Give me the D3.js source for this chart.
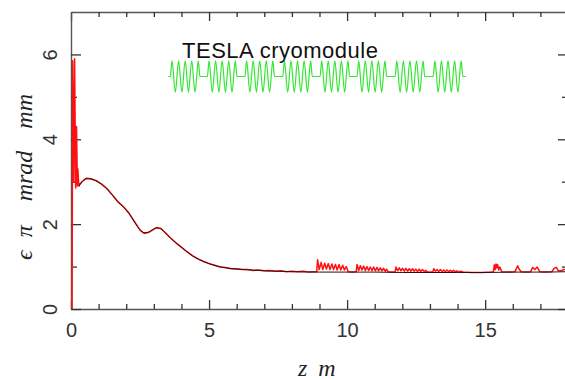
<!DOCTYPE html>
<html><head><meta charset="utf-8">
<script src="https://cdn.jsdelivr.net/npm/d3@7"></script>
<style>body{margin:0;background:#fff}svg{display:block}</style>
</head><body>
<svg id="chart" width="565" height="380"></svg>
<script>
// ---- data ----
const xMajorTicks = [0, 5, 10, 15];
const xMinorTicks = [1, 2, 3, 4, 6, 7, 8, 9, 11, 12, 13, 14, 16, 17];
const yMajorTicks = [0, 2, 4, 6];
const yMinorTicks = [1, 3, 5];
const xTitle = ["z", "m"];
const yTitle = ["ϵ", "π", "mrad", "mm"];
const moduleLabel = "TESLA cryomodule";

// smooth (black) emittance curve
const smoothZ = [0.28,0.4,0.55,0.7,0.9,1.1,1.3,1.5,1.7,1.9,2.1,2.3,2.5,2.65,2.8,2.95,3.1,3.25,3.4,3.6,3.8,4.0,4.2,4.4,4.6,4.8,5.0,5.3,5.6,6.0,6.5,7,7.5,8,9,10,11,12,13,14,15,16,17,18];
const smoothEps = [2.88,3.0,3.07,3.07,3.02,2.94,2.83,2.68,2.52,2.4,2.25,2.05,1.87,1.8,1.81,1.87,1.91,1.89,1.8,1.67,1.56,1.45,1.35,1.25,1.18,1.12,1.07,1.01,0.97,0.94,0.92,0.9,0.89,0.88,0.87,0.87,0.87,0.86,0.86,0.86,0.86,0.87,0.87,0.88];

// tracked (red) emittance curve [z, eps]
const trackedCurve = [
[0.04,0],[0.06,5.85],[0.1,3.0],[0.13,5.9],[0.17,2.85],[0.2,4.3],[0.23,2.9],[0.25,3.3],[0.28,2.92],
[0.4,3.0],[0.55,3.08],[0.7,3.07],[0.9,3.03],[1.1,2.95],[1.3,2.84],[1.5,2.69],[1.7,2.53],[1.9,2.41],[2.1,2.26],[2.3,2.06],[2.5,1.86],[2.65,1.78],[2.8,1.8],[2.95,1.86],[3.1,1.92],[3.25,1.9],[3.4,1.81],[3.6,1.68],[3.8,1.56],[4.0,1.46],[4.2,1.35],[4.4,1.26],[4.6,1.18],[4.8,1.12],[5.0,1.07],[5.2,1.03],[5.4,0.99],[5.6,0.98],[5.8,0.95],[6.0,0.95],[6.2,0.93],[6.4,0.93],[6.6,0.91],[6.8,0.92],[7.0,0.9],[7.2,0.91],[7.4,0.89],[7.6,0.9],[7.8,0.88],[8.0,0.89],[8.2,0.88],[8.4,0.89],[8.6,0.87],[8.8,0.88],
[8.9,0.88],[8.93,1.16],[8.99,0.93],[9.06,1.1],[9.12,0.93],[9.19,1.08],[9.25,0.94],[9.32,1.07],[9.38,0.93],[9.45,1.06],[9.51,0.93],[9.58,1.05],[9.64,0.92],[9.71,1.05],[9.77,0.92],[9.84,1.03],[9.9,0.92],[9.97,1.0],[10.04,0.88],
[10.18,0.87],
[10.33,0.88],[10.36,1.05],[10.42,0.91],[10.48,1.02],[10.54,0.92],[10.6,1.01],[10.66,0.91],[10.72,1.0],[10.78,0.91],[10.84,0.99],[10.9,0.9],[10.96,0.99],[11.02,0.9],[11.08,0.98],[11.14,0.9],[11.2,0.97],[11.26,0.9],[11.32,0.96],[11.38,0.89],[11.43,0.94],[11.48,0.88],
[11.6,0.87],
[11.74,0.88],[11.77,0.99],[11.83,0.9],[11.89,0.97],[11.95,0.9],[12.01,0.96],[12.07,0.89],[12.13,0.96],[12.19,0.89],[12.25,0.95],[12.31,0.89],[12.37,0.95],[12.43,0.89],[12.49,0.94],[12.55,0.88],[12.61,0.94],[12.67,0.88],[12.73,0.93],[12.8,0.88],[12.85,0.91],[12.9,0.87],
[13.1,0.87],[13.14,0.95],[13.2,0.89],[13.26,0.93],[13.32,0.88],[13.38,0.93],[13.44,0.88],[13.5,0.92],[13.56,0.88],[13.62,0.92],[13.68,0.88],[13.74,0.91],[13.8,0.88],[13.86,0.91],[13.92,0.87],[13.98,0.9],[14.04,0.87],[14.1,0.89],[14.2,0.87],
[14.5,0.86],[14.9,0.86],[15.2,0.87],
[15.3,0.88],[15.33,1.04],[15.36,0.93],[15.39,1.06],[15.42,0.97],[15.45,1.05],[15.49,0.92],[15.53,0.99],[15.6,0.88],
[15.9,0.87],
[16.08,0.88],[16.15,0.98],[16.18,1.02],[16.22,0.95],[16.3,0.88],
[16.5,0.87],
[16.65,0.88],[16.72,0.98],[16.8,0.93],[16.88,0.99],[16.98,0.88],
[17.2,0.87],
[17.42,0.88],[17.5,0.96],[17.58,0.98],[17.65,0.9],[17.75,0.9],[17.85,0.93],[18,0.94]
];

// cryomodule schematic (green)
const moduleStartZ = 3.52, moduleEndZ = 14.3;
const cavityStartZ = [3.6, 4.94, 6.3, 7.67, 9.02, 10.36, 11.74, 13.12];
const cavityLengthZ = 1.07;
const cellFieldSign = [1, -1, 1, -1, 1, -1, 1, -1, 1];
const fieldBaseline = 5.48, fieldAmplitude = 0.37;

// ---- chart ----
const svg = d3.select("#chart");
const x = d3.scaleLinear().domain([0, 18]).range([71, 568]);
const y = d3.scaleLinear().domain([0, 7]).range([309, 12]);
const axisColor = "#555";
const tickFont = "'Liberation Sans', Arial, sans-serif";
const italicFont = "'Liberation Serif', 'Times New Roman', serif";

function styleAxis(g) {
  g.select(".domain").attr("stroke", axisColor).attr("stroke-width", 1.4);
  g.selectAll(".tick line").attr("stroke", "#333").attr("stroke-width", 1.3);
}

const gB = svg.append("g").attr("transform", `translate(0,${y(0)})`);
gB.call(d3.axisBottom(x).tickValues(xMajorTicks).tickSizeInner(-9).tickSizeOuter(0).tickPadding(14).tickFormat(d3.format("d")));
gB.append("g").call(d3.axisBottom(x).tickValues(xMinorTicks).tickSize(-5).tickFormat("")).select(".domain").remove();
styleAxis(gB);
gB.selectAll(".tick text").attr("font-family", tickFont).attr("font-size", 20).attr("fill", "#333");

const gT = svg.append("g").attr("transform", `translate(0,${y(7)})`);
gT.call(d3.axisTop(x).tickValues(xMajorTicks).tickSizeInner(-9).tickSizeOuter(0).tickFormat(""));
gT.append("g").call(d3.axisTop(x).tickValues(xMinorTicks).tickSize(-5).tickFormat("")).select(".domain").remove();
styleAxis(gT);

const gL = svg.append("g").attr("transform", `translate(${x(0)},0)`);
gL.call(d3.axisLeft(y).tickValues(yMajorTicks).tickSizeInner(-10).tickSizeOuter(0).tickFormat(d3.format("d")));
gL.append("g").call(d3.axisLeft(y).tickValues(yMinorTicks).tickSize(-6).tickFormat("")).select(".domain").remove();
styleAxis(gL);
gL.selectAll(".tick text")
  .attr("x", null).attr("dy", null)
  .attr("text-anchor", "middle")
  .attr("transform", "translate(-14,0) rotate(-90)")
  .attr("font-family", tickFont).attr("font-size", 20).attr("fill", "#333");

const gR = svg.append("g").attr("transform", `translate(${x(18)},0)`);
gR.call(d3.axisRight(y).tickValues(yMajorTicks).tickSizeInner(-10).tickSizeOuter(0).tickFormat(""));
gR.append("g").call(d3.axisRight(y).tickValues(yMinorTicks).tickSize(-6).tickFormat("")).select(".domain").remove();
styleAxis(gR);

const xt = svg.append("text").attr("x", 298).attr("y", 376)
  .attr("font-family", italicFont).attr("font-style", "italic").attr("font-size", 24).attr("fill", "#222");
xt.append("tspan").text(xTitle[0]);
xt.append("tspan").attr("dx", 11).text(xTitle[1]);

const yt = svg.append("text").attr("transform", "translate(32,177) rotate(-90)")
  .attr("text-anchor", "middle")
  .attr("font-family", italicFont).attr("font-style", "italic").attr("font-size", 24).attr("fill", "#222");
yt.append("tspan").text(yTitle[0]);
yt.append("tspan").attr("dx", 13).text(yTitle[1]);
yt.append("tspan").attr("dx", 24).text(yTitle[2]);
yt.append("tspan").attr("dx", 22).text(yTitle[3]);

const line = d3.line().x(d => x(d[0])).y(d => y(d[1]));
svg.append("path").datum(trackedCurve)
  .attr("d", line).attr("fill", "none").attr("stroke", "#ff1010").attr("stroke-width", 1.5).attr("stroke-linejoin", "round");
const smooth = smoothZ.map((z, i) => [z, smoothEps[i]]);
svg.append("path").datum(smooth)
  .attr("d", d3.line().x(d => x(d[0])).y(d => y(d[1])).curve(d3.curveMonotoneX))
  .attr("fill", "none").attr("stroke", "#2a1010").attr("stroke-width", 1.0);

const modulePts = [[moduleStartZ, 0]];
cavityStartZ.forEach(s => {
  const cell = cavityLengthZ / cellFieldSign.length;
  modulePts.push([s, 0]);
  cellFieldSign.forEach((sg, i) => modulePts.push([s + (i + 0.5) * cell, sg]));
  modulePts.push([s + cavityLengthZ, 0]);
});
modulePts.push([moduleEndZ, 0]);
svg.append("path").datum(modulePts)
  .attr("d", d3.line().x(d => x(d[0])).y(d => y(fieldBaseline + fieldAmplitude * d[1])).curve(d3.curveMonotoneX))
  .attr("fill", "none").attr("stroke", "#33e633").attr("stroke-width", 1.2);

svg.append("text").attr("x", 182).attr("y", 58)
  .attr("font-family", tickFont).attr("font-size", 22).attr("fill", "#111")
  .attr("textLength", 196).attr("lengthAdjust", "spacing")
  .text(moduleLabel);
</script>
</body></html>
